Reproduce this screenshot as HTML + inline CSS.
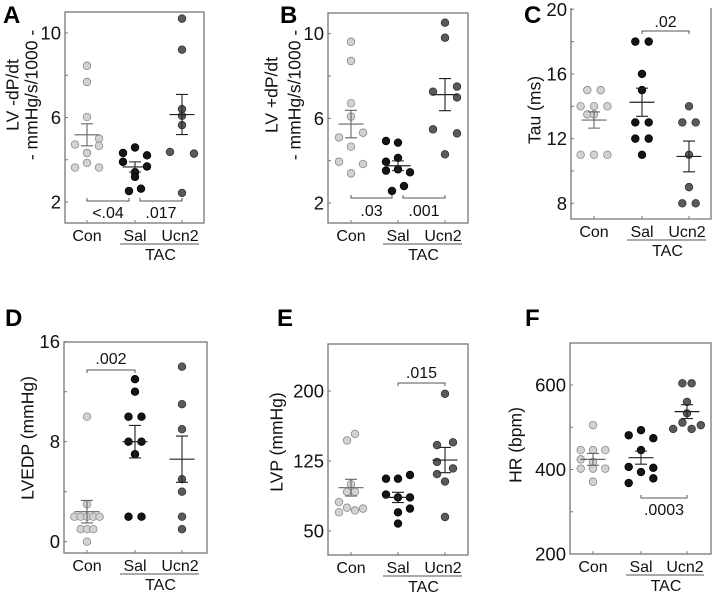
<!DOCTYPE html>
<html><head><meta charset="utf-8">
<style>
html,body{margin:0;padding:0;background:#fff;}
svg{display:block;font-family:"Liberation Sans",Arial,sans-serif;}
</style></head>
<body>
<svg id="fig" width="714" height="592" viewBox="0 0 714 592"></svg>
<script>
const groups=["Con","Sal","Ucn2"];
// Panel A: LV -dP/dt
const aCon=[8.45,7.68,6.02,4.72,5.0,4.66,4.32,3.85,3.63,3.63];
const aConJ=[0,0,0,-1,1,1,0,0,-1,1];
const aSal=[4.32,4.58,4.21,3.9,3.68,3.41,3.19,2.52,2.63];
const aSalJ=[-1,0,1,-1,1,0,0,-0.5,0.5];
const aUcn=[10.68,9.21,6.4,6.08,5.64,4.37,4.29,2.43];
const aUcnJ=[0,0,0,0,0,-1,1,0];
const aMean=[5.18,3.66,6.14];
const aSem=[0.52,0.24,0.95];
// Panel B: LV +dP/dt
const bCon=[9.62,8.71,6.71,6.08,5.1,5.32,4.66,3.95,3.84,3.4];
const bConJ=[0,0,0,0,-1,1,0,-1,1,0];
const bSal=[4.93,4.85,3.95,4.13,3.53,3.59,3.45,2.57,2.8];
const bSalJ=[-1,0,-1,0,-1,0,1,-0.5,0.5];
const bUcn=[10.52,9.81,7.26,7.5,6.99,5.48,5.29,4.3];
const bUcnJ=[0,0,-1,1,1,-1,1,0];
const bMean=[5.73,3.76,7.12];
const bSem=[0.65,0.23,0.76];
// Panel C: Tau
const cCon=[15,15,14,14,14,13.5,13.5,11,11,11];
const cConJ=[-1,1,-2,0,2,-1,0,-2,0,2];
const cSal=[18,18,16,15,13,13,12,12,11];
const cSalJ=[-1,1,0,0,-1,1,-1,1,0];
const cUcn=[14,13,13,11,9,8,8];
const cUcnJ=[0,-1,1,0,0,-1,1];
const cMean=[13.15,14.25,10.9];
const cSem=[0.5,0.87,0.95];
// Panel D: LVEDP
const dCon=[10,3,2,2,2,2,2,1,1,1,0];
const dConJ=[0,0,-2,-1,0,1,2,-1,0,1,0];
const dSal=[13,12,10,10,8,8,7,2,2];
const dSalJ=[0,0,-1,1,-1,1,0,-1,1];
const dUcn=[14,11,9,5,4,2,1];
const dUcnJ=[0,0,0,0,0,0,0];
const dMean=[2.4,8,6.6];
const dSem=[0.9,1.3,1.85];
// Panel E: LVP
const eCon=[154,147,100,92,92,81,70,75,72,74];
const eConJ=[0.5,-0.5,0,-0.5,0.5,-1.5,-1.5,-0.5,0.5,1.5];
const eSal=[106,106,110,89,86,86,70,74,58];
const eSalJ=[-1.5,0,1.5,-1.5,0,1.5,0,1.5,0];
const eUcn=[197,142,145,124,117,111,103,65];
const eUcnJ=[0,-1,1,-1,1,-1,0,0];
const eMean=[96.4,86,126];
const eSem=[9,5.5,13.5];
// Panel F: HR
const fCon=[505,446,446,446,424,418,402,402,402,371];
const fConJ=[0,-1,0,1,-1,0,-1,0,1,0];
const fSal=[481,493,474,446,406,404,394,379,368];
const fSalJ=[-1,0,1,0,-1,1,0,1,-1];
const fUcn=[604,604,560,533,511,496,496,505];
const fUcnJ=[-0.5,0.5,0,0,-0.5,-1.5,0.5,1.5];
const fMean=[424,428,537];
const fSem=[14,15.5,16.5];

const NS="http://www.w3.org/2000/svg";
const svg=document.getElementById('fig');
function mk(tag,attrs,parent,text){const e=document.createElementNS(NS,tag);for(const k in attrs)e.setAttribute(k,attrs[k]);if(text!==undefined)e.textContent=text;(parent||svg).appendChild(e);return e;}
const fills=["#d2d2d2","#141414","#5a5a5a"];
const strokes=["#8a8a8a","#000","#333"];

function panel(c){
  const g=mk('g',{});
  
  
  const ys=v=>c.y0+(v-c.v0)*(c.y1-c.y0)/(c.v1-c.v0);
  const gx=c.gx;
  const ax='#777';
  if(c.noTop){
    const p=mk('path',{d:`M${c.l} ${c.t}V${c.b}H${c.r}V${c.t}`,fill:'none',stroke:ax,'stroke-width':1.3},g);
    
  } else {
    const p=mk('rect',{x:c.l,y:c.t,width:c.r-c.l,height:c.b-c.t,fill:'none',stroke:ax,'stroke-width':1.3},g);
    
  }
  c.ticks.forEach(v=>{
    const y=ys(v);
    mk('line',{x1:c.l,x2:c.l+3,y1:y,y2:y,stroke:ax,'stroke-width':1},g);
    const t=mk('text',{x:c.l-4,y:y+6.5,'text-anchor':'end','font-size':18.5,fill:'#111'},g,String(v));
    
  });
  c.minor.forEach(v=>{const y=ys(v);mk('line',{x1:c.l,x2:c.l+3,y1:y,y2:y,stroke:ax,'stroke-width':1},g);});
  groups.forEach((n,i)=>{
    mk('line',{x1:gx[i],x2:gx[i],y1:c.b,y2:c.b-3,stroke:ax,'stroke-width':1},g);
    const t=mk('text',{x:gx[i]+(i==2?-2:0),y:c.b+18,'text-anchor':'middle','font-size':16,fill:'#111'},g,n);
    
  });
  const ul=mk('line',{x1:gx[1]-15,x2:gx[2]+17,y1:c.b+21,y2:c.b+21,stroke:'#555','stroke-width':1},g);
  
  const tac=mk('text',{x:(gx[1]+gx[2])/2+2,y:c.b+37,'text-anchor':'middle','font-size':16,fill:'#111'},g,'TAC');
  
  c.title.forEach((line,k)=>{
    const x=c.titleX[k],y=c.titleY;
    const t=mk('text',{x:x,y:y,'text-anchor':'middle','font-size':17.5,fill:'#111',transform:`rotate(-90 ${x} ${y})`,'dominant-baseline':'middle'},g,line);
    
  });
  const L=mk('text',{x:c.lx,y:c.ly,'font-size':24,'font-weight':'bold',fill:'#000'},g,c.id);
  
  c.series.forEach((s,i)=>{
    s.vals.forEach((v,j)=>{
      const cc=mk('circle',{cx:gx[i]+s.jit[j]*c.slot,cy:ys(v),r:3.8,fill:fills[i],stroke:strokes[i],'stroke-width':0.8},g);
      
      
    });
  });
  c.mean.forEach((m,i)=>{
    const col=i==0?'#666':'#222';
    const y=ys(m),yh=ys(m+c.sem[i]),yl=ys(m-c.sem[i]);
    const ml=mk('line',{x1:gx[i]-12.5,x2:gx[i]+12.5,y1:y,y2:y,stroke:col,'stroke-width':1.2},g);
    
    const eb=mk('path',{d:`M${gx[i]} ${yh}V${yl}M${gx[i]-6} ${yh}H${gx[i]+6}M${gx[i]-6} ${yl}H${gx[i]+6}`,fill:'none',stroke:col,'stroke-width':1.1},g);
    
  });
  c.br.forEach(b=>{
    const x1=gx[b.a]+(b.da||0),x2=gx[b.b]+(b.db||0),y=b.y,d=b.up?-3:3;
    const p=mk('path',{d:`M${x1} ${y+d}V${y}H${x2}V${y+d}`,fill:'none',stroke:'#555','stroke-width':1},g);
    
    const t=mk('text',{x:(x1+x2)/2,y:b.ty,'text-anchor':'middle','font-size':16,fill:'#111'},g,b.p);
    
  });
}

panel({id:'A',l:65,r:204,t:12,b:223,v0:2,y0:202,v1:10,y1:33,ticks:[2,6,10],minor:[4,8],gx:[87,135,182],slot:12,
  title:['LV -dP/dt','- mmHg/s/1000 -'],titleX:[14,33],titleY:95,lx:3,ly:23,
  series:[{vals:aCon,jit:aConJ},{vals:aSal,jit:aSalJ},{vals:aUcn,jit:aUcnJ}],mean:aMean,sem:aSem,
  br:[{a:0,b:1,db:-6,y:201,up:true,p:'<.04',ty:218},{a:1,b:2,da:5,y:201,up:true,p:'.017',ty:218}]});
panel({id:'B',l:328,r:468,t:13,b:223,v0:2,y0:203,v1:10,y1:33.7,ticks:[2,6,10],minor:[4,8],gx:[351,398,445],slot:12,
  title:['LV +dP/dt','- mmHg/s/1000 -'],titleX:[273,296],titleY:95,lx:280,ly:23,
  series:[{vals:bCon,jit:bConJ},{vals:bSal,jit:bSalJ},{vals:bUcn,jit:bUcnJ}],mean:bMean,sem:bSem,
  br:[{a:0,b:1,db:-6,y:198,up:true,p:'.03',ty:216},{a:1,b:2,da:5,y:198,up:true,p:'.001',ty:216}]});
panel({id:'C',l:571,r:711,t:8,b:219,noTop:true,v0:8,y0:203.3,v1:20,y1:9.3,ticks:[8,12,16,20],minor:[10,14,18],gx:[594,642,689],slot:6.7,
  title:['Tau (ms)'],titleX:[536],titleY:110,lx:524,ly:23,
  series:[{vals:cCon,jit:cConJ},{vals:cSal,jit:cSalJ},{vals:cUcn,jit:cUcnJ}],mean:cMean,sem:cSem,
  br:[{a:1,b:2,y:31,up:false,p:'.02',ty:27}]});
panel({id:'D',l:64,r:207,t:342,b:553,v0:0,y0:541.7,v1:16,y1:341.7,ticks:[0,8,16],minor:[4,12],gx:[87,135,182],slot:6.3,
  title:['LVEDP (mmHg)'],titleX:[29],titleY:438,lx:5,ly:326,
  series:[{vals:dCon,jit:dConJ},{vals:dSal,jit:dSalJ.map(x=>x*6.5/6.3)},{vals:dUcn,jit:dUcnJ}],mean:dMean,sem:dSem,
  br:[{a:0,b:1,y:370,up:false,p:'.002',ty:364}]});
panel({id:'E',l:328,r:468,t:344,b:555,v0:50,y0:531,v1:200,y1:391,ticks:[50,125,200],minor:[],gx:[351,398,445],slot:8,
  title:['LVP (mmHg)'],titleX:[278],titleY:442,lx:277,ly:326,
  series:[{vals:eCon,jit:eConJ},{vals:eSal,jit:eSalJ},{vals:eUcn,jit:eUcnJ}],mean:eMean,sem:eSem,
  br:[{a:1,b:2,y:383,up:false,p:'.015',ty:378}]});
panel({id:'F',l:570,r:711,t:343,b:554,v0:200,y0:554,v1:600,y1:385,ticks:[200,400,600],minor:[300,500],gx:[593,641,687],slot:12.3,
  title:['HR (bpm)'],titleX:[517],titleY:445,lx:525,ly:326,
  series:[{vals:fCon,jit:fConJ},{vals:fSal,jit:fSalJ},{vals:fUcn,jit:fUcnJ.map(x=>x*0.75)}],mean:fMean,sem:fSem,
  br:[{a:1,b:2,y:498,up:true,p:'.0003',ty:515}]});
</script>
</body></html>
